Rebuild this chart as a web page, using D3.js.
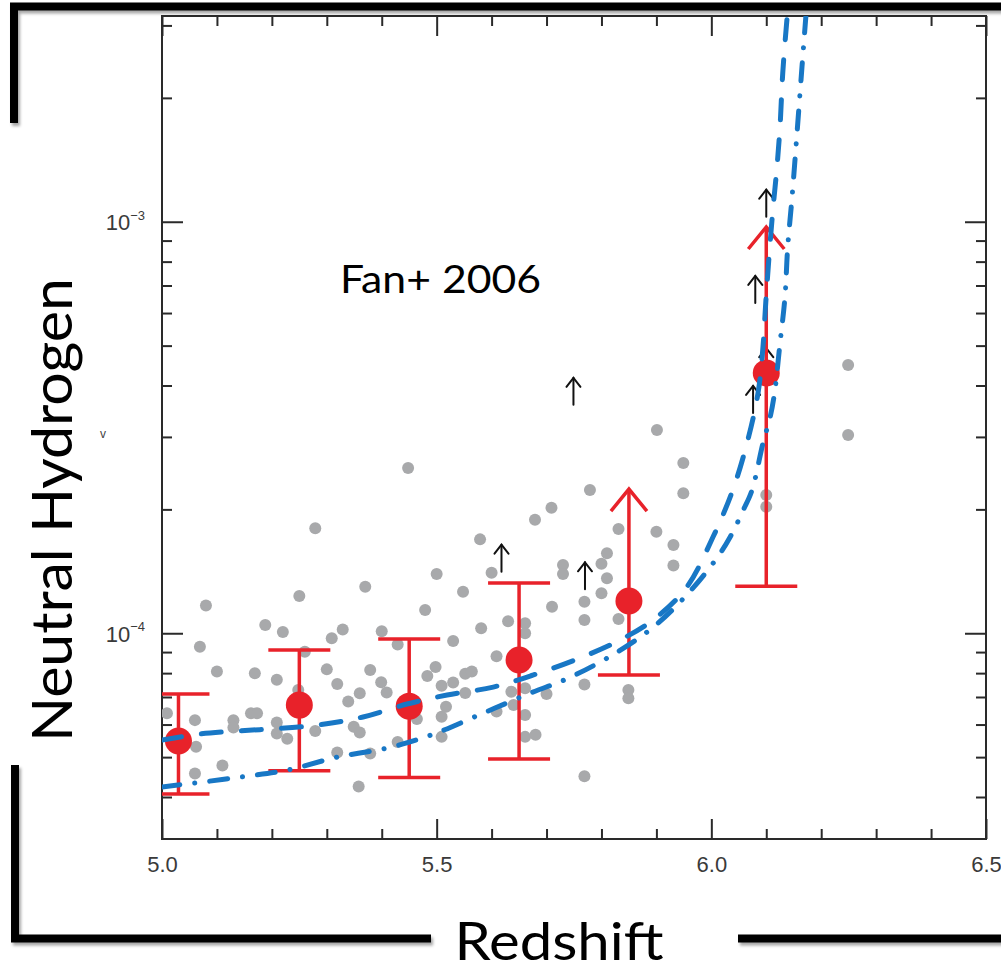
<!DOCTYPE html>
<html>
<head>
<meta charset="utf-8">
<script src="https://cdn.jsdelivr.net/npm/d3@7"></script>
<style>
  html, body { margin: 0; padding: 0; background: #fff; }
  svg { display: block; }
</style>
</head>
<body>
<svg id="chart" width="1001" height="971"></svg>
<script>
// ---- data ----------------------------------------------------------------
// individual quasar sightlines: [redshift, neutral fraction]
const sightlines = [
  [5.279, 1.799e-4], [5.370, 1.297e-4], [5.250, 1.232e-4], [5.080, 1.168e-4],
  [5.188, 1.047e-4], [5.220, 1.007e-4], [5.329, 1.021e-4], [5.309, 9.72e-5],
  [5.479, 1.139e-4], [5.400, 1.011e-4], [5.429, 9.39e-5], [5.069, 9.27e-5],
  [5.260, 9.02e-5], [5.100, 8.07e-5], [5.169, 7.99e-5], [5.209, 7.71e-5],
  [5.300, 8.17e-5], [5.379, 8.14e-5], [5.319, 7.53e-5], [5.399, 7.60e-5],
  [5.409, 7.18e-5], [5.360, 7.15e-5], [5.339, 6.83e-5], [5.248, 7.28e-5],
  [5.009, 6.39e-5], [5.060, 6.15e-5], [5.130, 6.15e-5], [5.130, 5.90e-5],
  [5.162, 6.39e-5], [5.173, 6.39e-5], [5.209, 6.07e-5], [5.209, 5.71e-5],
  [5.228, 5.54e-5], [5.279, 5.79e-5], [5.349, 5.93e-5], [5.360, 5.74e-5],
  [5.062, 5.30e-5], [5.110, 4.77e-5], [5.060, 4.56e-5], [5.319, 5.13e-5],
  [5.379, 5.10e-5], [5.358, 4.24e-5], [5.429, 5.44e-5], [5.464, 6.19e-5],
  [5.483, 7.87e-5], [5.498, 8.28e-5], [5.509, 7.45e-5], [5.530, 7.59e-5],
  [5.552, 7.16e-5], [5.517, 6.63e-5], [5.509, 6.27e-5], [5.509, 5.60e-5],
  [5.500, 1.393e-4], [5.548, 1.262e-4], [5.579, 1.691e-4], [5.600, 1.403e-4],
  [5.679, 1.888e-4], [5.709, 2.018e-4], [5.779, 2.229e-4], [5.901, 3.118e-4],
  [5.949, 2.593e-4], [5.949, 2.188e-4], [5.831, 1.792e-4], [5.900, 1.765e-4],
  [5.931, 1.639e-4], [5.931, 1.461e-4], [5.810, 1.565e-4], [5.800, 1.475e-4],
  [5.730, 1.465e-4], [5.730, 1.393e-4], [5.810, 1.360e-4], [5.800, 1.251e-4],
  [5.710, 1.160e-4], [5.769, 1.193e-4], [5.769, 1.077e-4], [5.831, 1.083e-4],
  [5.630, 1.070e-4], [5.661, 1.057e-4], [5.661, 1.000e-4], [5.581, 1.028e-4],
  [5.530, 9.57e-5], [5.609, 8.79e-5], [5.552, 7.97e-5], [5.564, 8.07e-5],
  [5.636, 7.21e-5], [5.661, 7.35e-5], [5.700, 7.12e-5], [5.769, 7.51e-5],
  [5.849, 7.28e-5], [5.849, 6.95e-5], [5.609, 6.45e-5], [5.640, 6.69e-5],
  [5.661, 6.33e-5], [5.661, 5.60e-5], [5.680, 5.67e-5], [5.769, 4.49e-5],
  [6.100, 2.168e-4], [6.100, 2.030e-4], [6.249, 4.487e-4], [6.249, 3.032e-4],
  [5.448, 2.521e-4]
];

// sightlines giving only lower limits: [redshift, neutral fraction]
const lowerLimits = [
  [5.749, 3.59e-4], [5.618, 1.411e-4], [5.770, 1.279e-4], [6.100, 1.029e-3],
  [6.080, 6.35e-4], [6.076, 3.43e-4], [6.100, 4.24e-4]
];

// binned averages
const binZ     = [5.03, 5.25, 5.45, 5.65, 5.85, 6.10];
const binMean  = [5.47e-5, 6.69e-5, 6.65e-5, 8.61e-5, 1.198e-4, 4.29e-4];
const binLow   = [4.07e-5, 4.63e-5, 4.46e-5, 4.95e-5, 7.92e-5, 1.30e-4];
const binHigh  = [7.12e-5, 9.10e-5, 9.68e-5, 1.325e-4, 2.24e-4, 9.71e-4];
const binLimit = [false, false, false, false, true, true];

// reionization model curves: [redshift, neutral fraction]
const modelDashed = [
  [5.000, 5.50e-5], [5.069, 5.69e-5], [5.282, 5.98e-5], [5.366, 6.26e-5],
  [5.446, 6.73e-5], [5.519, 7.08e-5], [5.603, 7.40e-5], [5.675, 7.91e-5],
  [5.761, 8.71e-5], [5.834, 9.63e-5], [5.894, 1.077e-4], [5.954, 1.288e-4],
  [6.003, 1.713e-4], [6.039, 2.229e-4], [6.065, 2.899e-4], [6.085, 3.835e-4],
  [6.094, 4.961e-4], [6.099, 6.345e-4], [6.105, 8.209e-4], [6.112, 1.068e-3],
  [6.119, 1.336e-3], [6.125, 1.699e-3], [6.130, 2.298e-3], [6.138, 3.145e-3],
  [6.145, 4.0e-3]
];
const modelDashDot = [
  [5.000, 4.23e-5], [5.056, 4.32e-5], [5.142, 4.47e-5], [5.228, 4.65e-5],
  [5.319, 5.00e-5], [5.415, 5.28e-5], [5.493, 5.68e-5], [5.584, 6.39e-5],
  [5.670, 7.15e-5], [5.739, 7.77e-5], [5.819, 8.84e-5], [5.894, 1.034e-4],
  [5.958, 1.251e-4], [6.010, 1.522e-4], [6.034, 1.711e-4], [6.058, 1.990e-4],
  [6.074, 2.226e-4], [6.094, 2.895e-4], [6.107, 3.349e-4], [6.115, 3.830e-4],
  [6.125, 5.067e-4], [6.134, 6.553e-4], [6.139, 8.670e-4], [6.147, 1.149e-3],
  [6.156, 1.643e-3], [6.165, 2.377e-3], [6.172, 3.145e-3], [6.178, 4.0e-3]
];

// axis ticks and labels
const zMajor = [5.0, 5.5, 6.0, 6.5];
const zMinor = [5.1, 5.2, 5.3, 5.4, 5.6, 5.7, 5.8, 5.9, 6.1, 6.2, 6.3, 6.4];
const fDecades = [1e-4, 1e-3];
const fDecadeExp = ["\u22124", "\u22123"];
const fMinor = [4e-5, 5e-5, 6e-5, 7e-5, 8e-5, 9e-5,
                2e-4, 3e-4, 4e-4, 5e-4, 6e-4, 7e-4, 8e-4, 9e-4, 2e-3, 3e-3];

const xTitle = "Redshift";
const yTitle = "Neutral Hydrogen";
const refLabel = "Fan+ 2006";

// ---- layout --------------------------------------------------------------
const L = 162, R = 986, T = 16, B = 839;
const svg = d3.select("#chart");

const x = d3.scaleLinear().domain([5.0, 6.5]).range([L, R]);
const y = d3.scaleLog().domain([Math.pow(10, -4.5), Math.pow(10, -2.5)]).range([B, T]);

const defs = svg.append("defs");
defs.append("clipPath").attr("id", "plot-clip")
  .append("rect").attr("x", L).attr("y", T).attr("width", R - L).attr("height", B - T);
const sh = defs.append("filter").attr("id", "shadow")
  .attr("x", "-5%").attr("y", "-50%").attr("width", "110%").attr("height", "200%");
sh.append("feDropShadow").attr("dx", 2).attr("dy", 3).attr("stdDeviation", 1.6)
  .attr("flood-color", "#000").attr("flood-opacity", 0.35);

// ---- axes ----------------------------------------------------------------
const axisColor = "#2a2a2a";
const tickFont = "'Liberation Sans', Arial, sans-serif";
function styleAxis(g) {
  g.select(".domain").remove();
  g.selectAll(".tick line").attr("stroke", axisColor).attr("stroke-width", 2);
  g.selectAll("text").attr("fill", "#3a3a3a")
    .attr("font-family", tickFont).attr("font-size", 22);
}

svg.append("g").attr("transform", `translate(0,${B})`)
  .call(d3.axisBottom(x).tickValues(zMinor).tickSize(-10).tickFormat(""))
  .call(styleAxis);
svg.append("g").attr("transform", `translate(0,${B})`)
  .call(d3.axisBottom(x).tickValues(zMajor).tickSize(-20).tickPadding(17).tickFormat(d3.format(".1f")))
  .call(styleAxis);
svg.append("g").attr("transform", `translate(0,${T})`)
  .call(d3.axisTop(x).tickValues(zMinor).tickSize(-10).tickFormat(""))
  .call(styleAxis);
svg.append("g").attr("transform", `translate(0,${T})`)
  .call(d3.axisTop(x).tickValues(zMajor).tickSize(-20).tickFormat(""))
  .call(styleAxis);

svg.append("g").attr("transform", `translate(${L},0)`)
  .call(d3.axisLeft(y).tickValues(fMinor).tickSize(-10).tickFormat(""))
  .call(styleAxis);
const leftMajor = svg.append("g").attr("transform", `translate(${L},0)`)
  .call(d3.axisLeft(y).tickValues(fDecades).tickSize(-21).tickPadding(17).tickFormat(""))
  .call(styleAxis);
leftMajor.selectAll(".tick text").each(function(d, i) {
  const t = d3.select(this).attr("dy", "0.36em");
  t.append("tspan").text("10");
  t.append("tspan").attr("font-size", 13).attr("dy", "-0.8em").text(fDecadeExp[i]);
});
svg.append("g").attr("transform", `translate(${R},0)`)
  .call(d3.axisRight(y).tickValues(fMinor).tickSize(-10).tickFormat(""))
  .call(styleAxis);
svg.append("g").attr("transform", `translate(${R},0)`)
  .call(d3.axisRight(y).tickValues(fDecades).tickSize(-21).tickFormat(""))
  .call(styleAxis);

// plot frame
svg.append("rect").attr("x", L).attr("y", T).attr("width", R - L).attr("height", B - T)
  .attr("fill", "none").attr("stroke", axisColor).attr("stroke-width", 2);

// small leftover axis mark
svg.append("text").attr("x", 103).attr("y", 438).attr("text-anchor", "middle")
  .attr("font-family", tickFont).attr("font-size", 12)
  .attr("fill", "#444").text("v");

// ---- marks ---------------------------------------------------------------
const plot = svg.append("g").attr("clip-path", "url(#plot-clip)");

plot.append("g").selectAll("circle").data(sightlines).join("circle")
  .attr("cx", d => x(d[0])).attr("cy", d => y(d[1])).attr("r", 6)
  .attr("fill", "#a8a9ab");

// lower-limit arrows
const arrowLen = 27;
const lim = plot.append("g").attr("stroke", "#111").attr("stroke-width", 2)
  .attr("fill", "none").attr("stroke-linecap", "round");
lowerLimits.forEach(d => {
  const cx = x(d[0]), by = y(d[1]), ty = by - arrowLen;
  lim.append("line").attr("x1", cx).attr("x2", cx).attr("y1", by).attr("y2", ty);
  lim.append("path").attr("d", `M${cx - 7},${ty + 9}L${cx},${ty}L${cx + 7},${ty + 9}`);
});

// binned averages with error bars
const red = "#e8222a";
const capHalf = 31;
const bins = plot.append("g").attr("stroke", red).attr("stroke-width", 3.5).attr("fill", "none");
binZ.forEach((z, i) => {
  const cx = x(z), yl = y(binLow[i]), yh = y(binHigh[i]);
  bins.append("line").attr("x1", cx).attr("x2", cx).attr("y1", yl).attr("y2", yh);
  bins.append("line").attr("x1", cx - capHalf).attr("x2", cx + capHalf).attr("y1", yl).attr("y2", yl);
  if (binLimit[i]) {
    bins.append("path").attr("d", `M${cx - 18},${yh + 22}L${cx},${yh}L${cx + 18},${yh + 22}`);
  } else {
    bins.append("line").attr("x1", cx - capHalf).attr("x2", cx + capHalf).attr("y1", yh).attr("y2", yh);
  }
});
plot.append("g").selectAll("circle").data(binZ).join("circle")
  .attr("cx", d => x(d)).attr("cy", (d, i) => y(binMean[i])).attr("r", 13.5)
  .attr("fill", red);

// model curves
const blue = "#1877c5";
const line = d3.line().x(d => x(d[0])).y(d => y(d[1])).curve(d3.curveCatmullRom.alpha(0.5));
plot.append("path").datum(modelDashed).attr("d", line)
  .attr("fill", "none").attr("stroke", blue).attr("stroke-width", 5)
  .attr("stroke-linecap", "round").attr("stroke-dasharray", "20,20");
plot.append("path").datum(modelDashDot).attr("d", line)
  .attr("fill", "none").attr("stroke", blue).attr("stroke-width", 5)
  .attr("stroke-linecap", "round").attr("stroke-dasharray", "18,15,0.1,15");

// ---- annotations ----------------------------------------------------------
const titleFont = "Lato, 'Open Sans', sans-serif";
svg.append("text").attr("x", 340).attr("y", 293)
  .attr("font-family", titleFont).attr("font-size", 38).attr("fill", "#000")
  .attr("textLength", 201).attr("lengthAdjust", "spacingAndGlyphs")
  .text(refLabel);

// outer bracket
const bracket = svg.append("g").attr("fill", "none").attr("stroke", "#000")
  .attr("stroke-width", 8).attr("stroke-linejoin", "miter").attr("filter", "url(#shadow)");
bracket.append("path").attr("d", "M1004,6.5H14V123");
bracket.append("path").attr("d", "M15,765V938.5H431");
bracket.append("path").attr("d", "M738,938.5H1004");

svg.append("text").attr("x", 559).attr("y", 960).attr("text-anchor", "middle")
  .attr("font-family", titleFont).attr("font-size", 52).attr("fill", "#000")
  .attr("textLength", 209).attr("lengthAdjust", "spacingAndGlyphs")
  .text(xTitle);

svg.append("text").attr("transform", "translate(72,510) rotate(-90)")
  .attr("text-anchor", "middle")
  .attr("font-family", titleFont).attr("font-size", 57).attr("fill", "#000")
  .attr("textLength", 464).attr("lengthAdjust", "spacingAndGlyphs")
  .text(yTitle);
</script>
</body>
</html>
